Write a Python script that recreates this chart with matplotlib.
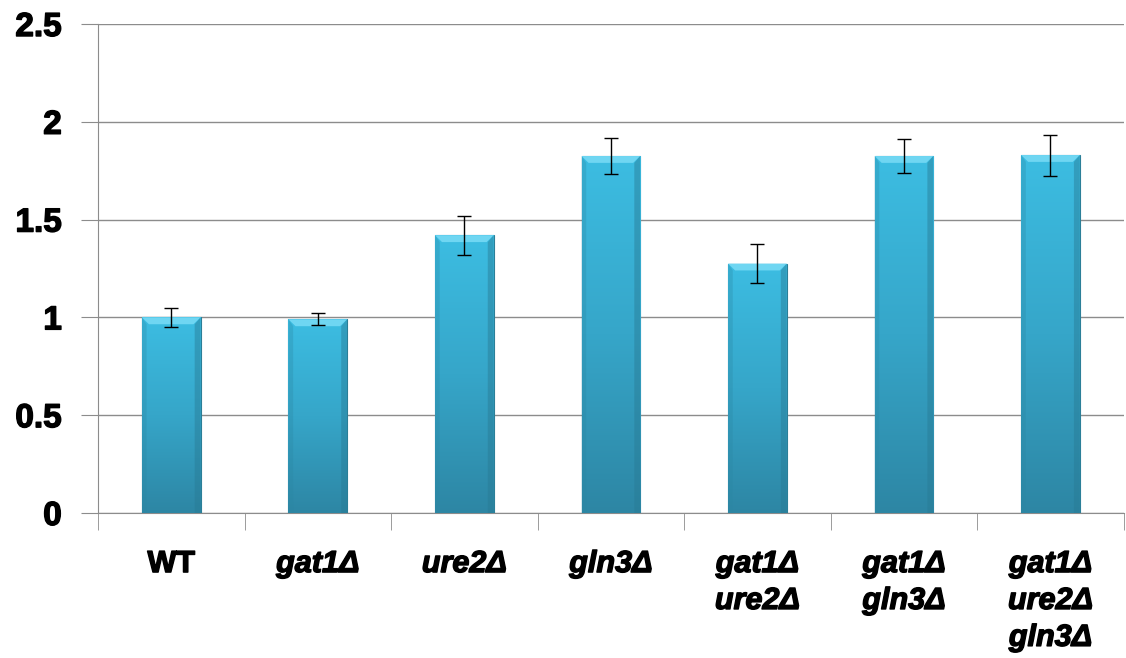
import numpy as np
import matplotlib.pyplot as plt
import matplotlib.patheffects as pe
from matplotlib.colors import LinearSegmentedColormap

# data
strains = ['WT', 'gat1Δ', 'ure2Δ', 'gln3Δ', 'gat1Δ\nure2Δ', 'gat1Δ\ngln3Δ', 'gat1Δ\nure2Δ\ngln3Δ']
values = [1.0, 0.99, 1.42, 1.825, 1.275, 1.825, 1.83]
errors = [0.05, 0.03, 0.10, 0.09, 0.10, 0.087, 0.105]
yticks = [0, 0.5, 1, 1.5, 2, 2.5]
ytick_labels = ['0', '0.5', '1', '1.5', '2', '2.5']

plt.rcParams['font.family'] = ['Liberation Sans', 'DejaVu Sans']
heavy = [pe.withStroke(linewidth=1.0, foreground='black')]

fig = plt.figure(figsize=(11.26, 6.58), dpi=100)
ax = fig.add_axes([0.087, 0.2204, 0.911, 0.7431])

x = np.arange(len(strains))
width = 0.4
bars = ax.bar(x, values, width, color='#36a9cc', edgecolor='#2b7f98', linewidth=0.8, zorder=3)

# vertical gradient in each bar
cmap = LinearSegmentedColormap.from_list('bar', ['#2d86a4', '#36a6c9', '#3cbde2'])
grad = np.linspace(0, 1, 256).reshape(-1, 1)
for b in bars:
    x0, w, h = b.get_x(), b.get_width(), b.get_height()
    im = ax.imshow(grad, cmap=cmap, origin='lower', aspect='auto',
                   extent=[x0, x0 + w, 0, h], zorder=3.5)
    im.set_clip_path(b)
    # light top bevel
    ax.fill([x0, x0 + w, x0 + w * 0.88, x0 + w * 0.12],
            [h, h, h - 0.035, h - 0.035], color='#6fd6f2', lw=0, zorder=4)
    # darker side edges
    ax.fill([x0 + w, x0 + w, x0 + w * 0.9, x0 + w * 0.9],
            [0, h, h - 0.035, 0], color='#287a94', alpha=0.45, lw=0, zorder=4)
    ax.fill([x0, x0, x0 + w * 0.08, x0 + w * 0.08],
            [0, h, h - 0.035, 0], color='#2a86a2', alpha=0.3, lw=0, zorder=4)

ax.errorbar(x, values, yerr=errors, fmt='none', ecolor='black', elinewidth=1,
            capsize=5, capthick=1, zorder=5)

ax.set_xlim(-0.5, len(strains) - 0.5)
ax.set_ylim(0, 2.5)
ax.set_yticks(yticks)
ax.set_yticklabels(ytick_labels, fontsize=24, fontweight='bold')
for lbl in ax.get_yticklabels():
    lbl.set_path_effects(heavy)
ax.yaxis.grid(True, color='#8c8c8c', linewidth=1, zorder=0)
ax.set_axisbelow(True)

ax.set_xticks(x)
ax.set_xticklabels(strains, fontsize=22, fontweight='bold', va='top', linespacing=1.3)
for lbl in ax.get_xticklabels():
    lbl.set_path_effects(heavy)
for lbl in ax.get_xticklabels()[1:]:
    lbl.set_fontstyle('italic')
ax.set_xticks(np.arange(-0.5, len(strains), 1), minor=True)
ax.tick_params(axis='x', which='major', length=0, pad=26)
ax.tick_params(axis='x', which='minor', length=12, color='#8c8c8c', direction='out')
ax.tick_params(axis='y', length=12, color='#8c8c8c', direction='out', pad=14)

for side in ['top', 'right']:
    ax.spines[side].set_visible(False)
for side in ['left', 'bottom']:
    ax.spines[side].set_color('#8c8c8c')

fig.savefig('out.png', dpi=100)
